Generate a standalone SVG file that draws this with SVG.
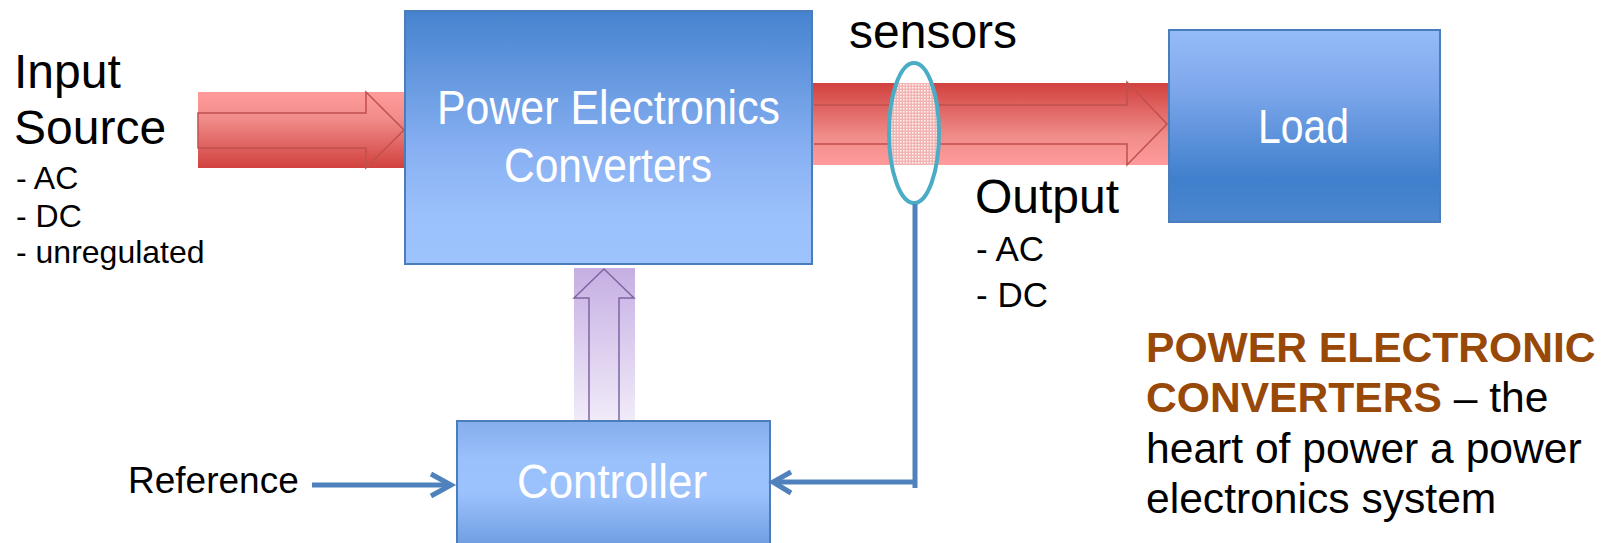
<svg xmlns="http://www.w3.org/2000/svg" width="1610" height="543" viewBox="0 0 1610 543">
<style>
.lbl{font-family:"Liberation Sans",Arial,sans-serif;fill:#000}
.box{font-family:"Liberation Sans",Arial,sans-serif;fill:#fff;font-size:49px}
.bx{stroke:#4a7ebb;stroke-width:2}
.ao{fill:none;stroke:#c0504d;stroke-width:1.5}
.conn{fill:none;stroke:#4f81bd;stroke-width:5;stroke-linecap:butt;stroke-linejoin:miter}
</style>
<defs>
<linearGradient id="gIn" x1="0" y1="0" x2="0" y2="1">
<stop offset="0" stop-color="#ff9b9a"/><stop offset="0.35" stop-color="#f08c8a"/><stop offset="1" stop-color="#d1413e"/>
</linearGradient>
<linearGradient id="gOut" x1="0" y1="0" x2="0" y2="1">
<stop offset="0" stop-color="#d1413e"/><stop offset="0.65" stop-color="#f08c8a"/><stop offset="1" stop-color="#ff9b9a"/>
</linearGradient>
<linearGradient id="gPE" x1="0" y1="0" x2="0" y2="1">
<stop offset="0" stop-color="#4683cf"/><stop offset="0.55" stop-color="#88b0f2"/><stop offset="0.8" stop-color="#9bc0fb"/><stop offset="1" stop-color="#9dc3fd"/>
</linearGradient>
<linearGradient id="gLoad" x1="0" y1="0" x2="0" y2="1">
<stop offset="0" stop-color="#95bbf8"/><stop offset="0.3" stop-color="#7fa8ec"/><stop offset="0.78" stop-color="#3f7fcc"/><stop offset="1" stop-color="#4d87d0"/>
</linearGradient>
<linearGradient id="gCtl" x1="0" y1="0" x2="0" y2="1">
<stop offset="0" stop-color="#86aeed"/><stop offset="0.3" stop-color="#9bc1fc"/><stop offset="0.55" stop-color="#9cc2fd"/><stop offset="1" stop-color="#6a9ade"/>
</linearGradient>
<linearGradient id="gPur" x1="0" y1="0" x2="0" y2="1">
<stop offset="0" stop-color="#c5afe3"/><stop offset="1" stop-color="#f1ebf9"/>
</linearGradient>
<pattern id="dots" width="3" height="3" patternUnits="userSpaceOnUse">
<rect width="3" height="3" fill="#f2b4b2"/>
<rect width="1.5" height="1.5" fill="#ffffff" opacity="0.85"/>
</pattern>
<clipPath id="bandClip"><rect x="812" y="83" width="356" height="82"/></clipPath>
</defs>

<g id="input-arrow">
<rect x="198" y="92" width="206" height="76" fill="url(#gIn)"/>
<path class="ao" d="M198,113 H366 V92 L404,130 L366,168 V148 H198 Z"/>
</g>

<g id="output-arrow">
<rect x="812" y="83" width="356" height="82" fill="url(#gOut)"/>
<path class="ao" d="M814,105 H1127 V82 L1167,124 L1127,165 V144 H814"/>
</g>

<g id="power-electronics">
<rect class="bx" x="405" y="11" width="407" height="253" fill="url(#gPE)"/>
<text class="box" x="437" y="124" textLength="343" lengthAdjust="spacingAndGlyphs">Power Electronics</text>
<text class="box" x="504" y="182" textLength="208" lengthAdjust="spacingAndGlyphs">Converters</text>
</g>

<g id="load">
<rect class="bx" x="1169" y="30" width="271" height="192" fill="url(#gLoad)"/>
<text class="box" x="1258" y="143" textLength="91" lengthAdjust="spacingAndGlyphs">Load</text>
</g>

<g id="control-arrow">
<rect x="574" y="268" width="61" height="153" fill="url(#gPur)"/>
<path d="M589,421 V298 H574 L604,269 L634,298 H619 V421" fill="none" stroke="#8064a2" stroke-width="1.5"/>
</g>

<g id="controller">
<rect class="bx" x="457" y="421" width="313" height="130" fill="url(#gCtl)"/>
<text class="box" x="517" y="498" textLength="190" lengthAdjust="spacingAndGlyphs">Controller</text>
</g>

<g id="sensors">
<g clip-path="url(#bandClip)"><ellipse cx="914" cy="133" rx="24" ry="69" fill="url(#dots)"/></g>
<ellipse cx="914" cy="133" rx="25" ry="70" fill="none" stroke="#4bacc6" stroke-width="4"/>
<text class="lbl" x="849" y="48" font-size="48">sensors</text>
</g>

<g id="connectors">
<path class="conn" d="M915,204 V488"/>
<path class="conn" d="M917,482 H773"/>
<path class="conn" d="M791,472 L773,482 L791,493"/>
<path class="conn" d="M312,485 H451"/>
<path class="conn" d="M431,474 L451,485 L431,496"/>
</g>

<g id="labels">
<text class="lbl" x="14" y="88" font-size="48">Input</text>
<text class="lbl" x="14" y="144" font-size="48">Source</text>
<text class="lbl" x="16" y="189" font-size="32">- AC</text>
<text class="lbl" x="16" y="227" font-size="32">- DC</text>
<text class="lbl" x="16" y="263" font-size="32">- unregulated</text>
<text class="lbl" x="975" y="213" font-size="48">Output</text>
<text class="lbl" x="976" y="261" font-size="35">- AC</text>
<text class="lbl" x="976" y="307" font-size="35">- DC</text>
<text class="lbl" x="128" y="493" font-size="37">Reference</text>
</g>

<g id="note" class="lbl" font-size="42.6">
<text x="1146" y="362" font-weight="bold" fill="#984807">POWER ELECTRONIC</text>
<text x="1146" y="412"><tspan font-weight="bold" fill="#984807">CONVERTERS</tspan> – the</text>
<text x="1146" y="463">heart of power a power</text>
<text x="1146" y="513">electronics system</text>
</g>
</svg>
